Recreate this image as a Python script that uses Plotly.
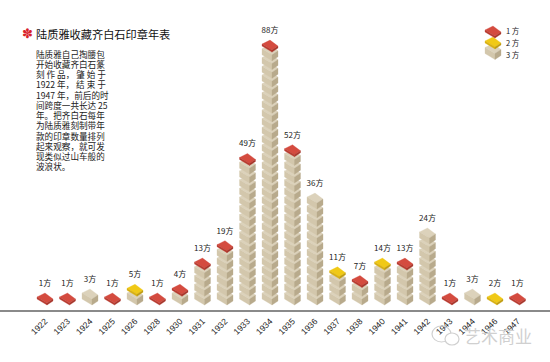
import plotly.graph_objects as go

years = ["1922","1923","1924","1925","1926","1928","1930","1931","1932","1933","1934",
         "1935","1936","1937","1938","1940","1941","1942","1943","1944","1946","1947"]
counts = [1,1,3,1,5,1,4,13,19,49,88,52,36,11,7,14,13,24,1,3,2,1]
title = "陆质雅收藏齐白石印章年表"
body = ["陆质雅自己掏腰包","开始收藏齐白石篆","刻 作 品， 肇 始 于","1922 年， 结 束 于","1947 年，前后的时",
        "间跨度一共长达 25","年。把齐白石每年","为陆质雅刻制带年","款的印章数量排列","起来观察，就可发","现类似过山车般的","波浪状。"]
legend_sizes = [3,2,1]

COL = {3:("#dcd2bb","#d3c7ac","#b8aa8c"), 2:("#f0c916","#d8b010","#c09c10"), 1:("#d44b3f","#b93b30","#a8352b")}
T = {1:2.0, 2:2.0, 3:6.0}
W,H_PX = 550,362
AXIS_Y = 310
PX_X, PX_Y = 22.5, 2.907
X0 = 45.0
SX = lambda px: (px-X0)/PX_X
SY = lambda py: (AXIS_Y-py)/PX_Y
polys = {(s,f):([],[]) for s in COL for f in range(3)}

def block(cx, by, size):
    t = T[size]
    b = (cx+2,by-t); r = (cx+8,by-t-4); tp = (cx,by-t-10); l = (cx-8,by-t-6)
    faces = [[b,r,tp,l],
             [l,b,(b[0],by),(l[0],l[1]+t)],
             [b,r,(r[0],r[1]+t),(b[0],by)]]
    for f,pts in enumerate(faces):
        xs,ys = polys[(size,f)]
        for p in pts+[pts[0]]:
            xs.append(SX(p[0])); ys.append(SY(p[1]))
        xs.append(None); ys.append(None)
    return tp[1]

lab_x,lab_y,lab_t=[],[],[]
BASE = 305.0
STEP = 8.72
for i,c in enumerate(counts):
    cx = X0+PX_X*i
    n3,rem = c//3,c%3
    by = BASE
    top = by
    for k in range(n3):
        top = block(cx,by,3)
        by -= STEP
    if rem:
        top = block(cx,by,rem)
    lab_x.append(SX(cx)); lab_y.append(SY(top-9)); lab_t.append(f"{c}方")

legend_by = {1:38, 2:49, 3:59.5}
for s in legend_sizes:
    block(493,legend_by[s],s)

fig = go.Figure()
for (s,f),(xs,ys) in polys.items():
    fig.add_trace(go.Scatter(x=xs,y=ys,mode="lines",fill="toself",fillcolor=COL[s][f],
                             line=dict(width=0.3,color=COL[s][f]),hoverinfo="skip",showlegend=False))
fig.add_trace(go.Scatter(x=lab_x,y=lab_y,mode="text",text=lab_t,textposition="middle center",
                         textfont=dict(family="Noto Sans CJK SC",size=8,color="#222"),showlegend=False,hoverinfo="skip"))

PY = lambda y: 1-y/AXIS_Y
ann=[]
def txt(x,y,t,size,color="#222",anchor="left",fam="Noto Sans CJK SC",**kw):
    ann.append(dict(x=x/W,y=PY(y),xref="paper",yref="paper",text=t,showarrow=False,xanchor=anchor,yanchor="middle",
                    font=dict(family=fam,size=size,color=color),borderpad=0,borderwidth=0,**kw))
txt(36,34,title,11.2,"#111")
txt(22,34,"✽",13,"#d8232a",fam="DejaVu Sans")
for i,l in enumerate(body):
    txt(36,53.5+i*10.27,l,8.6,"#222",height=10)
for s,yy in zip([1,2,3],[31,43,54]):
    txt(513,yy,f"{s} 方",7.5,"#222","center")
txt(464,335.5,"艺术商业",17,"#d0d0d0")

shapes=[
 dict(type="circle",xref="paper",yref="paper",x0=432/W,x1=451/W,y0=PY(342),y1=PY(326),line=dict(color="#d0d0d0",width=1.2)),
 dict(type="circle",xref="paper",yref="paper",x0=445/W,x1=459/W,y0=PY(345),y1=PY(333),line=dict(color="#d0d0d0",width=1.2),fillcolor="white"),
]

fig.update_layout(width=W,height=H_PX,margin=dict(l=0,r=0,t=0,b=H_PX-AXIS_Y),paper_bgcolor="white",plot_bgcolor="white",
    annotations=ann,shapes=shapes,showlegend=False,
    xaxis=dict(range=[SX(0),SX(W)],tickmode="array",tickvals=list(range(len(years))),ticktext=years,tickangle=-45,
               ticks="",showgrid=False,zeroline=False,showline=True,linecolor="#8a8a8a",linewidth=2,
               tickfont=dict(family="Liberation Sans",size=8.5,color="#222"),ticklabelstandoff=1),
    yaxis=dict(range=[0,SY(0)],visible=False,fixedrange=True))
fig.write_html("out.html",config=dict(displayModeBar=False),post_script="document.body.style.margin='0';document.documentElement.style.overflow='hidden';")
